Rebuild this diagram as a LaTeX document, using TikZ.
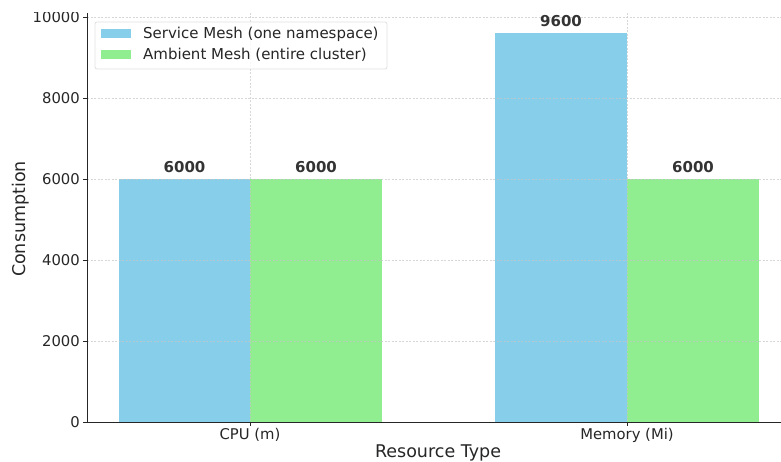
\documentclass[tikz,border=0pt]{standalone}
\usepackage{fontspec}
\setmainfont{DejaVu Sans}
\definecolor{skyblue}{HTML}{87CEEB}
\definecolor{lgreen}{HTML}{90EE90}
\definecolor{txt}{HTML}{262626}
\definecolor{vallab}{HTML}{333333}
\begin{document}
\begin{tikzpicture}[x=1pt,y=-1pt,
  ticklab/.style={font=\fontsize{14.8}{17}\selectfont, text=txt, inner sep=0pt},
  axlab/.style={font=\fontsize{17.5}{20}\selectfont, text=txt, inner sep=0pt},
  vallabel/.style={font=\fontsize{15}{17}\selectfont\bfseries, text=vallab, inner sep=0pt},
  leglab/.style={font=\fontsize{15}{17}\selectfont, text=txt, inner sep=0pt, anchor=west},
  gridline/.style={draw=gray!45, line width=0.6pt, dash pattern=on 2pt off 1.5pt, opacity=0.7},
  spine/.style={draw=txt, line width=1pt},
  tickmark/.style={draw=txt, line width=0.8pt}]
\useasboundingbox (0,0) rectangle (781,462);
\clip (0,13) rectangle (781,462);
% bars
\fill[skyblue] (119,179) rectangle (250,422);
\fill[lgreen] (250,179) rectangle (382,422);
\fill[skyblue] (495,33.2) rectangle (627,422);
\fill[lgreen] (627,179) rectangle (759,422);
% grid
\foreach \yy in {17,98,179,260,341} \draw[gridline] (87,\yy) -- (781,\yy);
\foreach \xx in {250,627} \draw[gridline] (\xx,13) -- (\xx,422);
% spines
\draw[spine] (87,13) -- (87,422) -- (781,422);
% y ticks
\foreach \yy/\lab in {422/0,341/2000,260/4000,179/6000,98/8000,17/10000} {
  \draw[tickmark] (83,\yy) -- (87,\yy);
  \node[ticklab, anchor=east] (yt\lab) at (80,\yy) {\lab};
}
% x ticks
\draw[tickmark] (250,422) -- (250,426);
\draw[tickmark] (627,422) -- (627,426);
\node[ticklab, anchor=north] (xcpu) at (250,428) {CPU (m)};
\node[ticklab, anchor=north] (xmem) at (627,428) {Memory (Mi)};
% axis labels
\node[axlab] (xlabel) at (438,453) {Resource Type};
\node[axlab, rotate=90] (ylabel) at (21,219) {Consumption};
% value labels
\node[vallabel] (v1) at (184.5,167) {6000};
\node[vallabel] (v2) at (316,167) {6000};
\node[vallabel] (v3) at (561,21.5) {9600};
\node[vallabel] (v4) at (693,167) {6000};
% legend
\draw[draw=gray!25, fill=white, fill opacity=0.8, rounded corners=2pt, line width=0.8pt] (95,22) rectangle (387,69);
\fill[skyblue] (101,29) rectangle (131,38.5);
\fill[lgreen] (101,50) rectangle (131,59.5);
\node[leglab] (l1) at (143,34) {Service Mesh (one namespace)};
\node[leglab] (l2) at (143,55) {Ambient Mesh (entire cluster)};
\end{tikzpicture}
\end{document}
